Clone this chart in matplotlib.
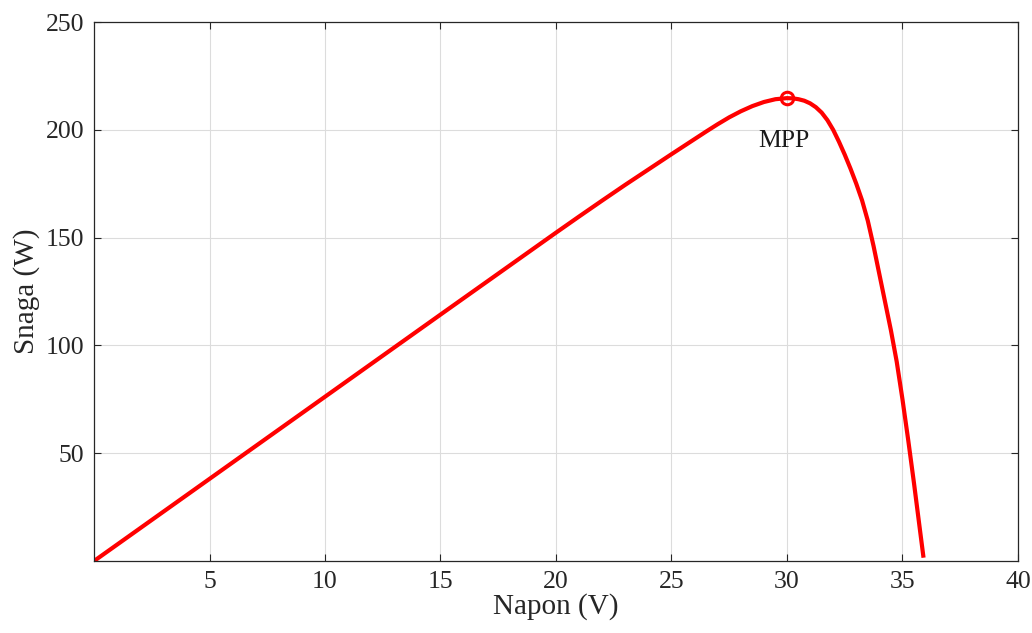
import matplotlib
matplotlib.use("Agg")
import matplotlib.pyplot as plt

voltage = [0, 5, 10, 15, 20, 21, 22, 23, 24, 25, 25.5, 26, 26.5, 27, 27.5, 28,
           28.5, 29, 29.5, 30, 30.25, 30.5, 30.75, 31, 31.25, 31.5, 31.75, 32,
           32.25, 32.5, 32.75, 33, 33.25, 33.5, 33.75, 34, 34.25, 34.5, 34.75,
           35, 35.25, 35.5, 35.75, 35.9]
power = [0, 38.1, 76.2, 114.3, 152.3, 159.8, 167.2, 174.5, 181.6, 188.7, 192.2,
         195.7, 199.2, 202.6, 205.8, 208.6, 211.0, 212.9, 214.2, 214.7, 214.6,
         214.2, 213.5, 212.3, 210.5, 208.0, 204.5, 200.0, 194.5, 188.5, 182.0,
         175.0, 167.3, 157.8, 146.0, 133.0, 120.0, 107.0, 92.5, 75.0, 56.0,
         36.0, 15.0, 2.5]
mpp_v, mpp_p = 30, 214.7
xticks = [5, 10, 15, 20, 25, 30, 35, 40]
yticks = [50, 100, 150, 200, 250]

plt.rcParams['font.family'] = ['Liberation Serif', 'DejaVu Serif']

fig = plt.figure(figsize=(10.32, 6.33), dpi=100)
ax = fig.add_axes([0.0911, 0.1137, 0.8953, 0.8515])
ax.plot(voltage, power, color='#ff0000', lw=3, solid_joinstyle='round')
ax.plot([mpp_v], [mpp_p], 'o', mfc='none', mec='#ff0000', ms=9, mew=2.2)
ax.text(mpp_v - 0.15, mpp_p - 20, 'MPP', ha='center', va='center', fontsize=18.5,
        color='#1a1a1a')

ax.set_xlim(0, 40)
ax.set_ylim(0, 250)
ax.set_xticks(xticks)
ax.set_yticks(yticks)
ax.tick_params(direction='in', top=True, right=True, labelsize=18.5, length=5,
               width=0.8, colors='#262626', pad=7)
ax.grid(True, color='#dcdcdc', lw=0.8)
for s in ax.spines.values():
    s.set_color('#262626')
    s.set_linewidth(0.9)
ax.set_xlabel('Napon (V)', fontsize=21, color='#262626', labelpad=0)
ax.set_ylabel('Snaga (W)', fontsize=21, color='#262626', labelpad=4)

fig.savefig('out.png', dpi=100)
